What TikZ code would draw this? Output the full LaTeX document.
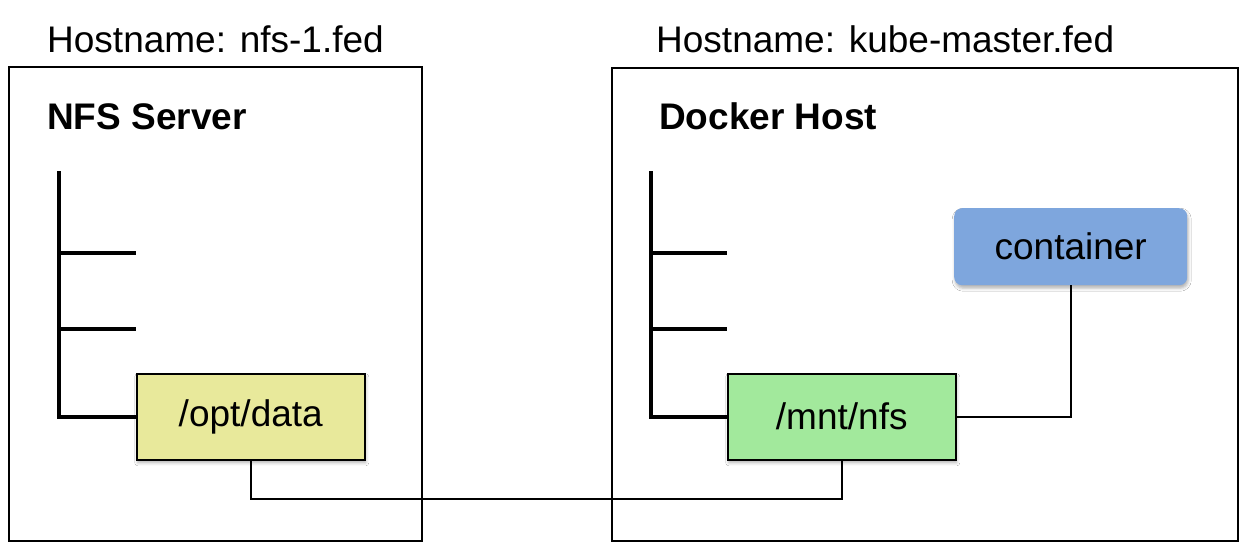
\documentclass[tikz,border=0pt]{standalone}
\usepackage{fontspec}
\setmainfont{Liberation Sans}
\usetikzlibrary{shadows.blur}
\definecolor{optfill}{HTML}{E8E99B}
\definecolor{mntfill}{HTML}{A2E99C}
\definecolor{contfill}{HTML}{7EA6DD}
\tikzset{
  hostbox/.style={draw=black, line width=1.5pt, fill=white, inner sep=0pt, anchor=north west},
  label/.style={anchor=base west, inner sep=0pt, font=\fontsize{37}{40}\selectfont},
  title/.style={anchor=base west, inner sep=0pt, font=\fontsize{37}{40}\selectfont\bfseries},
  softshadow/.style={blur shadow={shadow xshift=1pt, shadow yshift=-3pt, shadow blur radius=3pt, shadow opacity=30}},
  dirbox/.style={draw=black, line width=1.5pt, inner sep=0pt, minimum width=228pt, minimum height=86pt, anchor=north west, font=\fontsize{37}{40}\selectfont, softshadow},
  contbox/.style={rounded corners=8pt, inner sep=0pt, minimum width=233pt, minimum height=77pt, anchor=north west, fill=contfill, font=\fontsize{37}{40}\selectfont, softshadow},
  tree/.style={line width=4pt, line cap=butt},
  link/.style={line width=2pt},
}
\begin{document}
\begin{tikzpicture}[x=1pt,y=-1pt]
\useasboundingbox (0,0) rectangle (1245,552);
% host boxes
\node[hostbox, minimum width=413pt, minimum height=474pt] (lbox) at (8,66) {};
\node[hostbox, minimum width=626pt, minimum height=473pt] (rbox) at (611,67) {};
% labels
\node[label] (lhost) at (47,52) {Hostname: nfs-1.fed};
\node[label] (rhost) at (656,52) {Hostname: kube-master.fed};
\node[title] (ltitle) at (47,129) {NFS Server};
\node[title] (rtitle) at (659,129) {Docker Host};
% directory boxes
\node[dirbox, fill=optfill] (opt) at (136,373) {/opt/data};
\node[dirbox, fill=mntfill] (mnt) at (727,373) {/mnt/nfs};
\node[contbox] (cont) at (954,208) {container};
% tree coordinates
\coordinate (ltop) at (59,171);
\coordinate (lb1) at (136,253);
\coordinate (lb2) at (136,329);
\coordinate (rtop) at (651,171);
\coordinate (rb1) at (727,253);
\coordinate (rb2) at (727,329);
% trees
\draw[tree] (ltop) |- (opt.west);
\draw[tree] (ltop |- lb1) -- (lb1);
\draw[tree] (ltop |- lb2) -- (lb2);
\draw[tree] (rtop) |- (mnt.west);
\draw[tree] (rtop |- rb1) -- (rb1);
\draw[tree] (rtop |- rb2) -- (rb2);
% links
\draw[link] (opt.south) -- ++(0,38) -| (mnt.south);
\draw[link] (mnt.east) -| (cont.south);
\end{tikzpicture}
\end{document}
